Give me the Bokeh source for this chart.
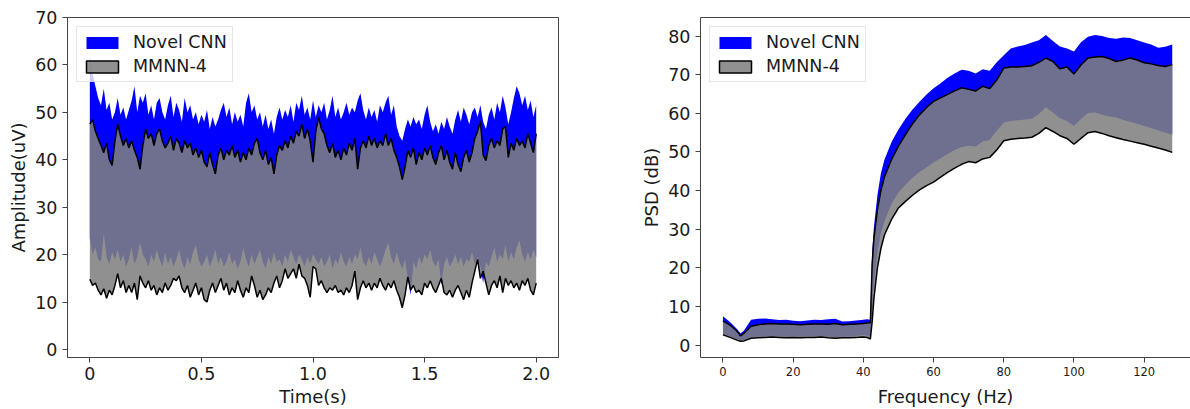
from bokeh.plotting import figure
from bokeh.layouts import row
from bokeh.models import Range1d, FixedTicker, Legend, LegendItem, LinearAxis
from bokeh.embed import file_html
from bokeh.resources import INLINE

# ---------------- Left panel: amplitude envelopes over time ----------------
time_step_s = 0.0125
cnn_hi_t = [
    62.0, 58.0, 55.5, 53.0, 51.5, 55.0, 50.5, 52.0, 48.5, 50.0,
    53.0, 49.5, 51.0, 48.5, 50.5, 52.5, 55.5, 50.0, 53.5, 52.0,
    54.0, 49.5, 51.5, 48.5, 52.0, 53.0, 50.0, 48.5, 51.5, 53.5,
    49.0, 52.0, 50.5, 48.0, 53.0, 50.0, 51.5, 48.5, 50.0, 47.5,
    49.5, 48.0, 50.5, 46.5, 49.0, 47.0, 48.5, 50.5, 52.0, 49.0,
    51.0, 47.5, 50.0, 48.0, 49.5, 47.0, 52.0, 54.0, 50.0, 51.5,
    48.5, 50.0, 47.0, 49.5, 46.5, 48.5, 45.5, 49.0, 51.0, 48.5,
    50.5, 49.0, 51.5, 48.0, 52.0, 50.5, 53.5, 49.5, 51.0, 48.5,
    52.5, 49.0, 51.5, 50.0, 52.0, 48.5, 50.5, 53.5, 49.0, 51.0,
    48.5, 50.0, 52.0, 49.5, 51.0, 50.0, 52.5, 54.0, 50.5, 48.5,
    51.0, 49.0, 50.5, 48.0, 51.5, 50.0, 52.0, 53.5, 49.5, 51.5,
    47.0, 45.0, 44.0, 46.5, 48.5, 47.0, 49.0, 47.5, 48.5, 46.5,
    49.5, 51.5, 48.0, 46.0, 47.5, 45.5, 48.0, 46.5, 49.0, 47.0,
    45.5, 48.5, 50.5, 48.0, 51.0, 49.5, 47.5, 50.0, 51.0, 49.0,
    51.5, 48.0, 46.5, 49.5, 51.0, 48.5, 52.0, 50.0, 53.5, 51.0,
    47.5, 50.0, 53.0, 55.5, 54.0, 51.5, 53.5, 50.5, 52.5, 49.0,
    51.5,
]
cnn_lo_t = [
    23.5, 20.0, 21.5, 19.0, 18.5, 24.5, 19.5, 18.0, 20.5, 19.0,
    21.0, 18.5, 20.0, 17.5, 19.0, 21.5, 18.0, 19.5, 22.5, 20.0,
    19.0, 17.5, 20.0, 18.5, 21.0, 19.0, 17.5, 20.5, 18.0, 19.5,
    17.5, 19.0, 21.0, 18.5, 17.0, 19.5, 18.0, 20.5, 22.0, 19.0,
    17.5, 18.5, 20.0, 17.5, 19.0, 21.0, 18.0, 19.5, 17.5, 18.5,
    20.5, 18.0, 19.0, 17.0, 18.5, 21.5, 19.0, 17.5, 20.0, 18.0,
    19.5, 21.0, 18.5, 17.0, 19.5, 18.0, 20.5, 18.5, 19.0, 17.5,
    20.0, 18.5, 21.0, 19.5, 18.0, 20.0, 19.0, 17.5, 19.5, 18.0,
    20.0, 19.0, 18.0, 19.5, 17.5, 18.5, 20.0, 17.0, 19.0, 18.0,
    20.5, 18.5, 17.5, 19.5, 18.0, 20.0, 19.0, 21.5, 18.5, 17.5,
    19.5, 18.0, 20.5, 19.0, 17.5, 19.0, 21.0, 22.5, 19.5, 18.0,
    20.5, 18.5, 17.0, 19.0, 15.0, 11.5, 18.5, 17.0, 19.5, 18.0,
    20.0, 19.0, 21.0, 18.5, 17.5, 19.0, 13.5, 18.0, 19.5, 17.5,
    18.5, 20.0, 18.0, 19.5, 17.5, 19.0, 18.5, 20.5, 18.0, 19.5,
    17.5, 14.0, 18.5, 17.5, 19.5, 21.5, 18.5, 20.0, 19.0, 22.0,
    18.5, 20.5, 19.0, 21.5, 23.0, 20.0, 18.5, 20.5, 19.0, 21.0,
    19.5,
]
mmnn_hi_t = [
    47.5, 48.5, 46.0, 44.5, 43.0, 41.5, 43.5, 40.0, 38.8, 44.0,
    47.5, 45.0, 43.0, 44.5, 42.5, 44.0, 42.0, 40.5, 38.0, 43.0,
    46.5, 44.5, 45.5, 43.0, 45.5, 46.5, 44.0, 42.5, 43.5, 45.0,
    42.0, 44.5, 43.5, 41.5, 44.0, 42.5, 43.5, 41.0, 42.5, 40.5,
    42.0, 39.5, 38.5, 41.5, 39.0, 37.0, 41.0, 42.5, 40.0, 42.0,
    41.0, 43.0, 40.5, 42.0, 39.5, 41.5, 40.0, 42.5, 41.0, 43.5,
    44.5, 41.5, 40.0, 42.0, 39.0, 40.5, 37.0, 41.0, 43.0, 42.0,
    44.0, 42.5, 45.0, 43.5, 46.0, 45.0, 47.5, 44.5, 46.5, 44.0,
    39.5, 46.0, 49.0, 46.5, 45.5, 43.0, 41.5, 43.5, 40.5, 42.0,
    40.0, 42.5, 41.0, 43.5, 42.0, 44.5, 38.0, 42.5, 44.0, 42.5,
    45.0, 43.0, 44.5, 42.5, 44.0, 43.0, 45.5, 43.0, 44.5, 42.0,
    40.5, 38.5, 35.8, 38.5, 42.0, 40.5, 42.5, 39.0, 41.5, 40.0,
    42.5, 41.0, 43.0, 40.5, 39.0, 41.5, 43.0, 40.0, 42.0, 39.5,
    38.0, 41.5, 39.0, 37.5, 40.5, 42.0, 39.5, 41.5, 44.5, 46.0,
    48.2, 41.0, 39.8, 43.0, 44.5, 42.5, 44.0, 43.0, 46.5, 47.0,
    40.5, 43.5, 42.0, 44.5, 43.0, 44.0, 42.5, 45.5, 43.5, 41.5,
    45.5,
]
mmnn_lo_t = [
    14.8, 13.5, 14.0, 12.5, 11.5, 12.8, 10.8, 12.5, 11.5, 13.5,
    16.0, 13.0, 14.5, 12.0, 13.5, 12.0, 14.0, 10.5, 15.5, 14.0,
    13.0, 14.5, 12.5, 13.5, 11.5, 13.0, 12.0, 14.0, 12.5, 13.5,
    15.0, 14.5, 15.5, 13.0, 12.0, 13.5, 11.0, 12.5, 14.0, 11.5,
    13.0, 10.5, 10.0, 12.5, 14.0, 12.0, 13.5, 15.0, 12.5, 14.0,
    11.5, 13.0, 12.0, 14.5, 12.5, 11.0, 13.0, 12.0, 15.5, 13.5,
    11.0, 12.5, 10.5, 11.5, 13.0, 12.0, 14.0, 15.5, 13.0, 14.5,
    17.0, 15.0, 16.0, 17.0, 15.0, 18.0, 15.5, 15.0, 13.5, 11.0,
    17.5, 17.0, 13.5, 14.5, 13.0, 12.0, 13.0, 12.5, 13.5, 12.0,
    12.5, 11.5, 13.0, 12.0, 13.5, 16.5, 10.5, 13.0, 14.5, 13.0,
    14.0, 12.5, 14.0, 13.0, 15.0, 13.5, 12.5, 14.0, 13.0, 14.5,
    12.5, 11.0, 8.8, 11.5, 15.3, 12.5, 13.5, 12.0, 12.5, 11.5,
    14.0, 13.0, 14.5, 13.0, 12.0, 13.5, 15.0, 12.0, 11.5, 12.5,
    11.0, 12.5, 13.5, 12.0, 10.5, 12.5, 11.0, 14.0, 16.5, 19.0,
    15.0, 16.5, 14.0, 11.5, 13.5, 14.5, 13.0, 15.5, 12.0, 15.0,
    13.5, 14.5, 13.0, 14.0, 12.5, 14.5, 13.5, 15.0, 12.5, 11.5,
    14.0,
]
time_s = [i * time_step_s for i in range(len(cnn_hi_t))]

time_ticks = [0.0, 0.5, 1.0, 1.5, 2.0]
time_tick_labels = ["0", "0.5", "1.0", "1.5", "2.0"]
amp_ticks = [0, 10, 20, 30, 40, 50, 60, 70]

# ---------------- Right panel: PSD envelopes over frequency ----------------
freq_hz = [0, 2, 4, 5, 6, 8, 10, 12, 14, 16, 18, 20, 22, 24, 26, 28, 30, 32, 34, 36, 38, 40,
           41, 42, 42.5, 43, 44, 45, 46,
           48, 50, 52, 54, 56, 58, 60, 62, 64, 66, 68, 70, 72, 74, 76, 78, 80, 82, 84, 86, 88,
           90, 92, 94, 96, 98, 100, 102, 104, 106, 108, 110, 112, 114, 116, 118, 120, 122, 124,
           126, 128]
cnn_hi_f = [7.5, 6.0, 4.2, 3.0, 3.8, 6.6, 6.8, 6.9, 6.7, 6.5, 6.6, 6.3, 6.2, 6.4, 6.6, 6.5, 6.7, 6.8, 6.1, 6.2, 6.4, 6.6,
            6.7, 6.6, 24.0, 30.5, 38.8, 44.5, 48.0,
            52.5, 55.8, 58.6, 61.0, 63.0, 64.9, 66.5, 67.8, 69.2, 70.3, 71.3, 71.0, 70.3, 71.4, 71.0, 73.2,
            75.0, 76.8, 77.3, 77.7, 78.3, 78.9, 80.3, 78.7, 77.3, 76.8, 76.0, 78.4, 79.8, 80.3, 80.0,
            79.5, 79.3, 79.6, 79.5, 78.9, 78.3, 77.8, 77.0, 77.2, 77.8]
mmnn_hi_f = [6.3, 5.2, 3.6, 2.4, 3.1, 4.9, 5.3, 5.5, 5.6, 5.5, 5.5, 5.4, 5.3, 5.4, 5.5, 5.5, 5.4, 5.6, 5.3, 5.4, 5.5, 5.6,
             5.7, 5.8, 21.0, 27.5, 35.0, 40.0, 43.5,
             48.0, 51.5, 54.5, 57.3, 59.6, 61.5, 63.1, 64.0, 64.9, 65.8, 66.6, 66.2, 65.8, 67.0, 66.4, 68.6,
             71.7, 72.0, 72.0, 72.1, 72.3, 73.2, 74.3, 73.4, 71.5, 72.0, 70.2, 72.5, 74.3, 74.6, 74.7,
             74.2, 73.4, 73.8, 74.3, 73.8, 73.1, 72.8, 72.4, 72.1, 72.6]
cnn_lo_f = [3.0, 2.3, 1.6, 1.3, 1.4, 2.1, 2.2, 2.3, 2.4, 2.3, 2.2, 2.3, 2.2, 2.3, 2.3, 2.4, 2.2, 2.1, 2.2, 2.2, 2.4, 2.6,
            2.5, 2.0, 9.0, 16.0, 24.0, 29.0, 32.0,
            36.5, 39.5, 41.5, 43.3, 44.8, 46.0, 47.3, 48.4, 49.5, 50.5, 51.3, 51.6, 51.4, 52.7, 53.1, 55.5,
            57.6, 58.0, 58.2, 58.4, 58.6, 59.8, 61.6, 60.2, 58.7, 58.0, 56.7, 58.5, 60.1, 60.2, 59.6,
            59.2, 58.9, 58.3, 57.8, 57.3, 56.7, 56.2, 55.6, 55.0, 54.5]
mmnn_lo_f = [2.7, 2.0, 1.3, 1.0, 1.1, 1.8, 1.9, 2.0, 2.1, 2.0, 1.9, 2.0, 1.9, 2.0, 2.0, 2.1, 1.9, 1.8, 1.9, 1.9, 2.0, 2.1,
             2.0, 1.6, 6.0, 12.0, 20.0, 25.0, 28.5,
             32.5, 35.5, 37.2, 38.8, 40.2, 41.3, 42.2, 43.5, 44.7, 45.8, 46.8, 47.5, 47.2, 48.2, 48.6, 50.5,
             52.9, 53.3, 53.5, 53.6, 53.8, 54.8, 56.3, 55.3, 54.2, 53.5, 52.0, 53.5, 55.0, 55.3, 54.8,
             54.2, 53.7, 53.2, 52.8, 52.4, 52.0, 51.5, 51.0, 50.5, 49.9]

psd_ticks = [0, 10, 20, 30, 40, 50, 60, 70, 80]
freq_ticks = [0, 20, 40, 60, 80, 100, 120]

series_names = ["Novel CNN", "MMNN-4"]

# ---------------- styling ----------------
FONT = "DejaVu Sans"
BLUE = "#0000ff"
GRAY = "#808080"
GRAY_ALPHA = 0.87
SPINE = "#444444"
TEXT = "#1a1a1a"
NAN = float("nan")


def style_axis(ax, tick_size="17.5px"):
    ax.major_label_text_font = FONT
    ax.major_label_text_font_size = tick_size
    ax.major_label_text_color = TEXT
    ax.axis_label_text_font = FONT
    ax.axis_label_text_font_size = "18px"
    ax.axis_label_text_font_style = "normal"
    ax.axis_label_text_color = TEXT
    ax.axis_line_color = SPINE
    ax.major_tick_line_color = SPINE
    ax.major_tick_out = 5
    ax.major_tick_in = 0
    ax.minor_tick_line_color = None


def add_bands(p, x, c_lo, c_hi, m_lo, m_hi):
    p.varea(x=x, y1=c_lo, y2=c_hi, fill_color=BLUE, fill_alpha=1.0)
    p.varea(x=x, y1=m_lo, y2=m_hi, fill_color=GRAY, fill_alpha=GRAY_ALPHA)
    p.line(x=x, y=m_hi, line_color="black", line_width=1.5)
    p.line(x=x, y=m_lo, line_color="black", line_width=1.5)
    # legend swatches only (NaN geometry: nothing is drawn in the plot area)
    leg_c = p.quad(left=[NAN], right=[NAN], top=[NAN], bottom=[NAN],
                   fill_color=BLUE, line_color=None)
    leg_m = p.quad(left=[NAN], right=[NAN], top=[NAN], bottom=[NAN],
                   fill_color=GRAY, fill_alpha=GRAY_ALPHA,
                   line_color="black", line_width=1.5)
    legend = Legend(items=[LegendItem(label=series_names[0], renderers=[leg_c]),
                           LegendItem(label=series_names[1], renderers=[leg_m])],
                    location="top_left")
    legend.label_text_font = FONT
    legend.label_text_font_size = "17.5px"
    legend.label_text_color = TEXT
    legend.glyph_width = 40
    legend.glyph_height = 15
    legend.label_standoff = 11
    legend.padding = 5
    legend.spacing = 4
    legend.margin = 9
    legend.border_line_color = "#cccccc"
    legend.border_line_width = 1
    legend.background_fill_alpha = 0.8
    p.add_layout(legend)


# Left figure
p1 = figure(width=570, height=409, output_backend="svg", toolbar_location=None,
            x_range=Range1d(-0.1, 2.1), y_range=Range1d(-1.7, 70),
            min_border_left=67, min_border_right=12, min_border_top=17, min_border_bottom=50)
p1.grid.visible = False
p1.outline_line_color = SPINE
p1.outline_line_width = 1
p1.background_fill_color = "white"
p1.border_fill_color = "white"
add_bands(p1, time_s, cnn_lo_t, cnn_hi_t, mmnn_lo_t, mmnn_hi_t)
p1.xaxis.ticker = FixedTicker(ticks=time_ticks)
p1.xaxis.major_label_overrides = dict(zip(time_ticks, time_tick_labels))
p1.yaxis.ticker = FixedTicker(ticks=amp_ticks)
p1.xaxis.axis_label = "Time(s)"
p1.yaxis.axis_label = "Amplitude(uV)"
for ax in p1.xaxis + p1.yaxis:
    style_axis(ax)
p1.xaxis.major_label_standoff = 4
p1.xaxis.axis_label_standoff = 3
p1.yaxis.major_label_standoff = 5
p1.yaxis.axis_label_standoff = 3

# Right figure
p2 = figure(width=620, height=409, output_backend="svg", toolbar_location=None,
            x_range=Range1d(-6.4, 133.2), y_range=Range1d(-3.2, 84.8),
            min_border_left=130, min_border_right=0, min_border_top=17, min_border_bottom=49)
p2.grid.visible = False
p2.outline_line_color = None
p2.background_fill_color = "white"
p2.border_fill_color = "white"
add_bands(p2, freq_hz, cnn_lo_f, cnn_hi_f, mmnn_lo_f, mmnn_hi_f)
p2.xaxis.ticker = FixedTicker(ticks=freq_ticks)
p2.yaxis.ticker = FixedTicker(ticks=psd_ticks)
p2.xaxis.axis_label = "Frequency (Hz)"
p2.yaxis.axis_label = "PSD (dB)"
for ax in p2.yaxis:
    style_axis(ax)
for ax in p2.xaxis:
    style_axis(ax, tick_size="11.5px")
p2.xaxis.major_label_standoff = 4
p2.xaxis.axis_label_standoff = 7
p2.yaxis.major_label_standoff = 5
p2.yaxis.axis_label_standoff = 3

top_spine = LinearAxis(ticker=FixedTicker(ticks=[]), major_label_text_font_size="0px",
                       major_tick_out=0, major_tick_in=0, major_label_standoff=0,
                       minor_tick_line_color=None, axis_line_color=SPINE)
p2.add_layout(top_spine, "above")

layout = row(p1, p2)
open("out.html", "w").write(file_html(layout, INLINE))
